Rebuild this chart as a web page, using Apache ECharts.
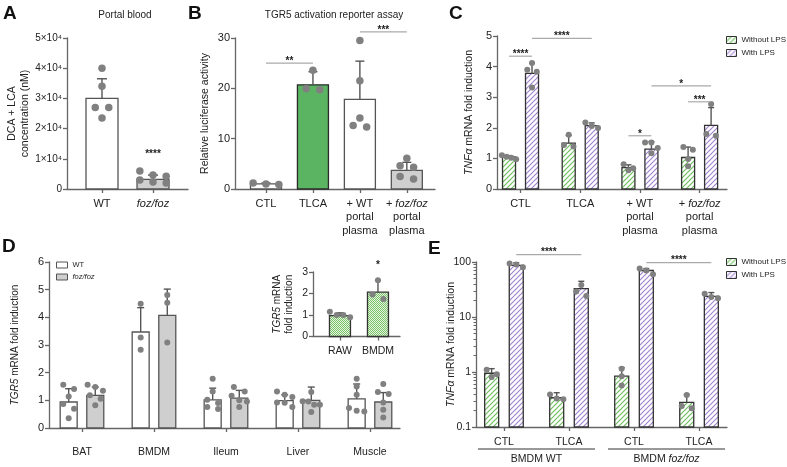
<!DOCTYPE html>
<html><head><meta charset="utf-8">
<script src="https://cdn.jsdelivr.net/npm/echarts@6/dist/echarts.min.js"></script>
<style>html,body{margin:0;padding:0;background:#fff}#c{width:787px;height:467px}</style>
</head><body><div id="c"></div>
<script>
// ================= DATA =================
// Panel A – Portal blood
const aCategories = ['WT', 'foz/foz'];
const aMeans = [30000, 3200];
const aSD = [6500, 1400];
const aPoints = [[40000, 34000, 27000, 27000, 23500], [6000, 4600, 4200, 3000, 2300, 2000]];

// Panel B – TGR5 activation reporter assay
const bCategories = ['CTL', 'TLCA', '+ WT portal plasma', '+ foz/foz portal plasma'];
const bMeans = [1.0, 20.7, 17.8, 3.7];
const bSD = [0.2, 2.6, 7.6, 1.6];
const bPoints = [[0.9, 1.2, 1.0], [23.6, 19.7, 19.9], [29.5, 21.5, 14.1, 12.3, 12.6], [6.1, 4.6, 4.3, 2.5, 2.0]];

// Panel C – TNFa, portal plasma
const cCategories = ['CTL', 'TLCA', '+ WT portal plasma', '+ foz/foz portal plasma'];
const cWithoutMeans = [1.05, 1.5, 0.7, 1.03];
const cWithoutSD = [0.04, 0.25, 0.09, 0.34];
const cWithMeans = [3.78, 2.07, 1.3, 2.08];
const cWithSD = [0.33, 0.09, 0.25, 0.58];
const cWithoutPoints = [[1.1, 1.05, 1.02, 0.97], [1.77, 1.39, 1.44], [0.81, 0.61, 0.68], [1.28, 1.37, 0.98, 0.74]];
const cWithPoints = [[4.12, 3.9, 3.83, 3.32], [2.17, 1.99, 2.06], [1.52, 1.52, 1.34, 1.17], [2.78, 1.74, 1.8]];

// Panel D – TGR5 mRNA in tissues
const dCategories = ['BAT', 'BMDM', 'Ileum', 'Liver', 'Muscle'];
const dWtMeans = [0.94, 3.47, 1.02, 0.99, 1.05];
const dWtSD = [0.48, 0.88, 0.42, 0.21, 0.54];
const dFozMeans = [1.18, 4.07, 1.08, 1.0, 0.94];
const dFozSD = [0.3, 0.95, 0.28, 0.48, 0.34];
const dWtPoints = [[1.41, 1.56, 1.14, 0.87, 0.70, 0.35], [4.49, 3.27, 2.83], [1.78, 1.32, 1.02, 0.90, 0.76, 0.69], [1.32, 1.2, 1.12, 0.92, 0.91, 0.76], [1.78, 1.5, 1.2, 0.72, 0.62, 0.6]];
const dFozPoints = [[1.48, 1.56, 1.35, 1.18, 1.06, 0.82], [4.81, 4.53, 3.09], [1.32, 1.48, 1.17, 1.0, 0.96, 0.76], [1.3, 0.97, 0.96, 0.84, 0.84, 0.58], [1.3, 1.59, 1.23, 0.92, 0.66, 0.38]];

// Panel D inset
const insetCategories = ['RAW', 'BMDM'];
const insetMeans = [0.97, 2.06];
const insetSD = [0.13, 0.55];
const insetPoints = [[1.15, 0.9, 1.0, 1.0], [2.62, 1.95, 1.75]];

// Panel E – TNFa in BMDM (log scale)
const eCategories = ['CTL', 'TLCA', 'CTL', 'TLCA'];
const eGroups = ['BMDM WT', 'BMDM foz/foz'];
const eWithoutMeans = [0.95, 0.34, 0.84, 0.28];
const eWithoutSD = [0.2, 0.08, 0.36, 0.11];
const eWithMeans = [87, 32.8, 70, 23.8];
const eWithSD = [10, 11.8, 6, 4];
const eWithoutPoints = [[1.1, 0.91, 0.81], [0.39, 0.33, 0.32], [1.15, 0.84, 0.57], [0.38, 0.24, 0.22]];
const eWithPoints = [[80, 94, 90], [38, 29, 24], [76, 60, 70], [26.5, 22, 23]];

// Significance annotations: [fromCategory, fromSide, toCategory, toSide, yValue, label]
const aSig = [[1, 0, 1, 0, 11000, '****']];
const bSig = [[0, 0, 1, 0, 25.0, '**'], [2, 0, 3, 0, 31.2, '***']];
const cSig = [[0, -1, 0, 1, 4.34, '****'], [0, 1, 1, 1, 4.92, '****'], [2, -1, 2, 1, 1.74, '*'], [2, 1, 3, 1, 3.37, '*'], [3, -1, 3, 1, 2.85, '***']];
const insetSig = [[1, 0, 1, 0, 3.2, '*']];
const eSig = [[0, 1, 1, 1, 136, '****'], [2, 1, 3, 1, 97.5, '****']];

// ================= STYLE / LAYOUT =================
const FONT = '"Liberation Sans", Arial, Helvetica, sans-serif';
const AX = '#666';
const TXT = '#222';
const DOT = '#808080';

function hatch(color) {
  const c = document.createElement('canvas'); c.width = c.height = 5;
  const g = c.getContext('2d');
  g.fillStyle = '#fff'; g.fillRect(0, 0, 5, 5);
  g.strokeStyle = color; g.lineWidth = 1.2; g.beginPath();
  g.moveTo(-1, 6); g.lineTo(6, -1); g.moveTo(-1, 1); g.lineTo(1, -1); g.moveTo(4, 6); g.lineTo(6, 4);
  g.stroke();
  return { image: c, repeat: 'repeat' };
}
function checker(color) {
  const c = document.createElement('canvas'); c.width = c.height = 2;
  const g = c.getContext('2d');
  g.fillStyle = '#e4f3df'; g.fillRect(0, 0, 2, 2);
  g.fillStyle = color; g.fillRect(0, 0, 1, 1); g.fillRect(1, 1, 1, 1);
  return { image: c, repeat: 'repeat' };
}
const GREEN_H = hatch('#6fbf5f');
const PURPLE_H = hatch('#a285d0');
const GREEN_C = checker('#7cc46a');

const grids = [
  { left: 67, top: 38, width: 121, height: 151 },   // 0 A
  { left: 235, top: 38, width: 200, height: 151 },  // 1 B
  { left: 497, top: 36, width: 230, height: 153 },  // 2 C
  { left: 49, top: 262, width: 351, height: 166 },  // 3 D
  { left: 313, top: 272, width: 87, height: 64.5 }, // 4 inset
  { left: 476, top: 262, width: 251, height: 165 }  // 5 E
];
const xRanges = [[-0.686, 1.686], [-0.66, 3.6], [-0.394, 3.459], [-0.458, 4.417], [-0.71, 1.58], [-0.43, 3.43]];

function fmtCat(s) {
  return s.replace(' portal plasma', '\nportal\nplasma').replace('foz/foz', '{i|foz/foz}');
}
function xAxis(gi, cats, fontSize, margin) {
  const idx = cats.map((c, i) => i);
  return {
    gridIndex: gi, type: 'value', min: xRanges[gi][0], max: xRanges[gi][1],
    splitLine: { show: false },
    axisLine: { show: true, onZero: false, lineStyle: { color: AX, width: 1.3 } },
    axisTick: { show: true, customValues: idx, length: 4, lineStyle: { color: AX, width: 1.3 } },
    axisLabel: {
      customValues: idx, margin: margin, color: TXT, fontFamily: FONT, fontSize: fontSize, lineHeight: 13.5,
      formatter: v => fmtCat(cats[Math.round(v)]),
      rich: { i: { fontStyle: 'italic', fontFamily: FONT, fontSize: fontSize, lineHeight: 13.5, color: TXT } }
    }
  };
}
function yAxis(gi, max, interval, fontSize, name, nameGap, nameSize, fmt) {
  return {
    gridIndex: gi, type: 'value', min: 0, max: max, interval: interval,
    splitLine: { show: false },
    axisLine: { show: true, onZero: false, lineStyle: { color: AX, width: 1.3 } },
    axisTick: { show: true, length: 4, lineStyle: { color: AX, width: 1.3 } },
    axisLabel: { color: TXT, fontFamily: FONT, fontSize: fontSize, margin: 5, formatter: fmt },
    name: name, nameLocation: 'middle', nameGap: nameGap, nameRotate: 90,
    nameTextStyle: { color: TXT, fontFamily: FONT, fontSize: nameSize, lineHeight: nameSize + 2,
      rich: { i: { fontStyle: 'italic', fontFamily: FONT, fontSize: nameSize, color: TXT } } }
  };
}

function barSeries(name, gi, means, o) {
  const base = o.base || 0, off = o.off || 0, w = o.w;
  return {
    type: 'custom', name: name, xAxisIndex: gi, yAxisIndex: gi, z: 2, silent: true,
    itemStyle: { color: o.fill, borderColor: o.stroke },
    data: means.map((m, i) => [i, m]),
    renderItem(params, api) {
      const i = api.value(0), v = api.value(1);
      const p0 = api.coord([i, base]), p1 = api.coord([i, v]);
      return { type: 'rect', shape: { x: p0[0] + off - w / 2, y: p1[1], width: w, height: p0[1] - p1[1] },
        style: { fill: o.fill, stroke: o.stroke, lineWidth: o.lw || 1.3 } };
    }
  };
}
function barSeriesPerCat(name, gi, means, fills, strokes, w) {
  return {
    type: 'custom', name: name, xAxisIndex: gi, yAxisIndex: gi, z: 2, silent: true,
    data: means.map((m, i) => [i, m]),
    renderItem(params, api) {
      const i = api.value(0), v = api.value(1);
      const p0 = api.coord([i, 0]), p1 = api.coord([i, v]);
      return { type: 'rect', shape: { x: p0[0] - w / 2, y: p1[1], width: w, height: p0[1] - p1[1] },
        style: { fill: fills[i], stroke: strokes[i], lineWidth: 1.3 } };
    }
  };
}
function errSeries(gi, means, sds, o) {
  const off = o.off || 0, cap = o.cap || 8;
  return {
    type: 'custom', xAxisIndex: gi, yAxisIndex: gi, z: 3, silent: true,
    data: means.map((m, i) => [i, m, m + sds[i]]),
    renderItem(params, api) {
      const i = api.value(0);
      const a = api.coord([i, api.value(1)]), b = api.coord([i, api.value(2)]);
      const x = a[0] + off;
      const st = { stroke: o.color || '#555', lineWidth: 1.4 };
      return { type: 'group', children: [
        { type: 'line', shape: { x1: x, y1: a[1], x2: x, y2: b[1] }, style: st },
        { type: 'line', shape: { x1: x - cap / 2, y1: b[1], x2: x + cap / 2, y2: b[1] }, style: st }
      ] };
    }
  };
}
function dotSeries(gi, groups, o) {
  const off = o.off || 0, size = o.size || 7, bw = o.w;
  return {
    type: 'custom', xAxisIndex: gi, yAxisIndex: gi, z: 4, silent: true,
    data: groups.map((g, i) => [i, Math.max.apply(null, g)]),
    renderItem(params, api) {
      const i = params.dataIndex;
      const vals = groups[i].slice().sort((p, q) => q - p);
      const pts = vals.map(v => api.coord([i, v]));
      const rows = []; let cur = null;
      pts.forEach(p => { if (cur && Math.abs(p[1] - cur[0][1]) < size) cur.push(p); else { cur = [p]; rows.push(cur); } });
      const ch = [];
      rows.forEach(r => {
        const n = r.length, sp = Math.min(size * 1.8, (bw + size) / n);
        r.forEach((p, k) => ch.push({ type: 'circle', shape: { cx: p[0] + off + (k - (n - 1) / 2) * sp, cy: p[1], r: size / 2 }, style: { fill: DOT } }));
      });
      return { type: 'group', children: ch };
    }
  };
}
function sigSeries(gi, sigs, off, fs) {
  return {
    type: 'custom', xAxisIndex: gi, yAxisIndex: gi, z: 6, silent: true,
    data: sigs.map(s => [s[0], s[4]]),
    renderItem(params, api) {
      const s = sigs[params.dataIndex];
      const a = api.coord([s[0], s[4]]), b = api.coord([s[2], s[4]]);
      const x1 = a[0] + s[1] * off, x2 = b[0] + s[3] * off;
      const ch = [];
      if (Math.abs(x2 - x1) > 1) ch.push({ type: 'line', shape: { x1: x1, y1: a[1], x2: x2, y2: a[1] }, style: { stroke: '#aaa', lineWidth: 1.2 } });
      ch.push({ type: 'text', x: (x1 + x2) / 2, y: a[1] + 3, style: { text: s[5], fill: TXT, font: 'bold ' + (fs || 10) + 'px ' + FONT, align: 'center', verticalAlign: 'bottom' } });
      return { type: 'group', children: ch };
    }
  };
}
function groupLabelSeries(gi, groups, halfSpan) {
  return {
    type: 'custom', xAxisIndex: gi, yAxisIndex: gi, z: 6, silent: true,
    data: groups.map((g, i) => [2 * i + 0.5, 0.1]),
    renderItem(params, api) {
      const c = api.value(0);
      const a = api.coord([c - halfSpan, 0.1]), b = api.coord([c + halfSpan, 0.1]);
      const y = a[1] + 22;
      const t = groups[params.dataIndex].replace('foz/foz', '{i|foz/foz}');
      return { type: 'group', children: [
        { type: 'line', shape: { x1: a[0], y1: y, x2: b[0], y2: y }, style: { stroke: '#333', lineWidth: 1 } },
        { type: 'text', x: (a[0] + b[0]) / 2, y: y + 10, style: { text: t, fill: TXT, fontFamily: FONT, fontSize: 10.5, align: 'center', verticalAlign: 'middle',
          rich: { i: { fontStyle: 'italic', fontFamily: FONT, fontSize: 10.5, fill: TXT } } } }
      ] };
    }
  };
}

const WHITE = '#ffffff', GRAY = '#cfcfcf', BORDER = '#555';

const series = [
  barSeriesPerCat('Portal blood', 0, aMeans, [WHITE, GRAY], [BORDER, BORDER], 32),
  errSeries(0, aMeans, aSD, { cap: 10 }),
  dotSeries(0, aPoints, { w: 32, size: 7.5 }),
  sigSeries(0, aSig, 0, 10),

  barSeriesPerCat('Reporter', 1, bMeans, [WHITE, '#5bb462', WHITE, GRAY], [BORDER, '#2b2b2b', BORDER, BORDER], 31),
  errSeries(1, bMeans, bSD, { cap: 9 }),
  dotSeries(1, bPoints, { w: 31, size: 7.5 }),
  sigSeries(1, bSig, 0, 10),

  barSeries('Without LPS', 2, cWithoutMeans, { off: -11.5, w: 13, fill: GREEN_H, stroke: '#333' }),
  barSeries('With LPS', 2, cWithMeans, { off: 11.5, w: 13, fill: PURPLE_H, stroke: '#333' }),
  errSeries(2, cWithoutMeans, cWithoutSD, { off: -11.5, cap: 6 }),
  errSeries(2, cWithMeans, cWithSD, { off: 11.5, cap: 6 }),
  dotSeries(2, cWithoutPoints, { off: -11.5, w: 13, size: 6 }),
  dotSeries(2, cWithPoints, { off: 11.5, w: 13, size: 6 }),
  sigSeries(2, cSig, 11.5, 10),

  barSeries('WT', 3, dWtMeans, { off: -13.3, w: 17, fill: WHITE, stroke: BORDER }),
  barSeries('foz/foz', 3, dFozMeans, { off: 13.3, w: 17, fill: GRAY, stroke: BORDER }),
  errSeries(3, dWtMeans, dWtSD, { off: -13.3, cap: 7 }),
  errSeries(3, dFozMeans, dFozSD, { off: 13.3, cap: 7 }),
  dotSeries(3, dWtPoints, { off: -13.3, w: 17, size: 6 }),
  dotSeries(3, dFozPoints, { off: 13.3, w: 17, size: 6 }),

  barSeries('TGR5 inset', 4, insetMeans, { w: 21, fill: GREEN_C, stroke: '#333' }),
  errSeries(4, insetMeans, insetSD, { cap: 6 }),
  dotSeries(4, insetPoints, { w: 21, size: 6 }),
  sigSeries(4, insetSig, 0, 10),

  barSeries('Without LPS', 5, eWithoutMeans, { off: -12.3, w: 14, fill: GREEN_H, stroke: '#333', base: 0.1 }),
  barSeries('With LPS', 5, eWithMeans, { off: 12.3, w: 14, fill: PURPLE_H, stroke: '#333', base: 0.1 }),
  errSeries(5, eWithoutMeans, eWithoutSD, { off: -12.3, cap: 6 }),
  errSeries(5, eWithMeans, eWithSD, { off: 12.3, cap: 6 }),
  dotSeries(5, eWithoutPoints, { off: -12.3, w: 14, size: 6 }),
  dotSeries(5, eWithPoints, { off: 12.3, w: 14, size: 6 }),
  sigSeries(5, eSig, 12.3, 10),
  groupLabelSeries(5, eGroups, 0.9)
];

const eY = {
  gridIndex: 5, type: 'log', logBase: 10, min: 0.1, max: 100,
  splitLine: { show: false },
  axisLine: { show: true, onZero: false, lineStyle: { color: AX, width: 1.3 } },
  axisTick: { show: true, length: 4, lineStyle: { color: AX, width: 1.3 } },
  minorTick: { show: true, splitNumber: 9, length: 2.5, lineStyle: { color: AX, width: 1 } },
  axisLabel: { color: TXT, fontFamily: FONT, fontSize: 10.5, margin: 5, formatter: v => String(v) },
  name: '{i|TNFα} mRNA fold induction', nameLocation: 'middle', nameGap: 19, nameRotate: 90, nameMoveOverlap: false,
  nameTextStyle: { color: TXT, fontFamily: FONT, fontSize: 10.5, rich: { i: { fontStyle: 'italic', fontFamily: FONT, fontSize: 10.5, color: TXT } } }
};

const legendText = { fontFamily: FONT, fontSize: 8, color: TXT };
const option = {
  animation: false,
  backgroundColor: '#fff',
  grid: grids.map(g => Object.assign({ outerBoundsMode: 'none', containLabel: false }, g)),
  xAxis: [
    xAxis(0, aCategories, 11, 8),
    xAxis(1, bCategories, 11, 8),
    xAxis(2, cCategories, 11, 8),
    xAxis(3, dCategories, 10.5, 17),
    xAxis(4, insetCategories, 10.5, 8),
    xAxis(5, eCategories, 10.5, 8)
  ],
  yAxis: [
    yAxis(0, 50000, 10000, 10, 'DCA + LCA\nconcentration (nM)', 36, 10.5, v => v === 0 ? '0' : (v / 10000) + '×10⁴'),
    yAxis(1, 30, 10, 11, 'Relative luciferase activity', 24, 10.5),
    yAxis(2, 5, 1, 11, '{i|TNFα} mRNA fold induction', 22, 10.5),
    yAxis(3, 6, 1, 11, '{i|TGR5} mRNA fold induction', 28, 10),
    yAxis(4, 3, 1, 10.5, '{i|TGR5} mRNA\nfold induction', 18, 10),
    eY
  ],
  legend: [
    { left: 726, top: 36, padding: 0, orient: 'vertical', itemWidth: 10, itemHeight: 7, itemGap: 5, icon: 'rect', selectedMode: false,
      textStyle: legendText,
      data: [{ name: 'Without LPS', itemStyle: { color: GREEN_H, borderColor: '#333', borderWidth: 1 } },
             { name: 'With LPS', itemStyle: { color: PURPLE_H, borderColor: '#333', borderWidth: 1 } }] },
    { left: 726, top: 258, padding: 0, orient: 'vertical', itemWidth: 10, itemHeight: 7, itemGap: 5, icon: 'rect', selectedMode: false,
      textStyle: legendText,
      data: [{ name: 'Without LPS', itemStyle: { color: GREEN_H, borderColor: '#333', borderWidth: 1 } },
             { name: 'With LPS', itemStyle: { color: PURPLE_H, borderColor: '#333', borderWidth: 1 } }] },
    { left: 56, top: 261, padding: 0, orient: 'vertical', itemWidth: 11, itemHeight: 6, itemGap: 4, icon: 'rect', selectedMode: false,
      textStyle: { fontFamily: FONT, fontSize: 7.5, color: TXT, rich: { i: { fontStyle: 'italic', fontFamily: FONT, fontSize: 7.5, color: TXT } } },
      formatter: n => n === 'foz/foz' ? '{i|foz/foz}' : n,
      data: [{ name: 'WT', itemStyle: { color: WHITE, borderColor: BORDER, borderWidth: 1 } },
             { name: 'foz/foz', itemStyle: { color: GRAY, borderColor: BORDER, borderWidth: 1 } }] }
  ],
  graphic: [
    { type: 'text', left: 3, top: 4, style: { text: 'A', font: 'bold 19px ' + FONT, fill: '#111' } },
    { type: 'text', left: 188, top: 4, style: { text: 'B', font: 'bold 19px ' + FONT, fill: '#111' } },
    { type: 'text', left: 449, top: 4, style: { text: 'C', font: 'bold 19px ' + FONT, fill: '#111' } },
    { type: 'text', left: 2, top: 237, style: { text: 'D', font: 'bold 19px ' + FONT, fill: '#111' } },
    { type: 'text', left: 428, top: 239, style: { text: 'E', font: 'bold 19px ' + FONT, fill: '#111' } },
    { type: 'text', x: 125, y: 15, style: { text: 'Portal blood', font: '10px ' + FONT, fill: TXT, align: 'center', verticalAlign: 'middle' } },
    { type: 'text', x: 334, y: 15, style: { text: 'TGR5 activation reporter assay', font: '10px ' + FONT, fill: TXT, align: 'center', verticalAlign: 'middle' } }
  ],
  series: series
};
const chart = echarts.init(document.getElementById('c'), null, { renderer: 'canvas' });
chart.setOption(option);
</script>
</body></html>
